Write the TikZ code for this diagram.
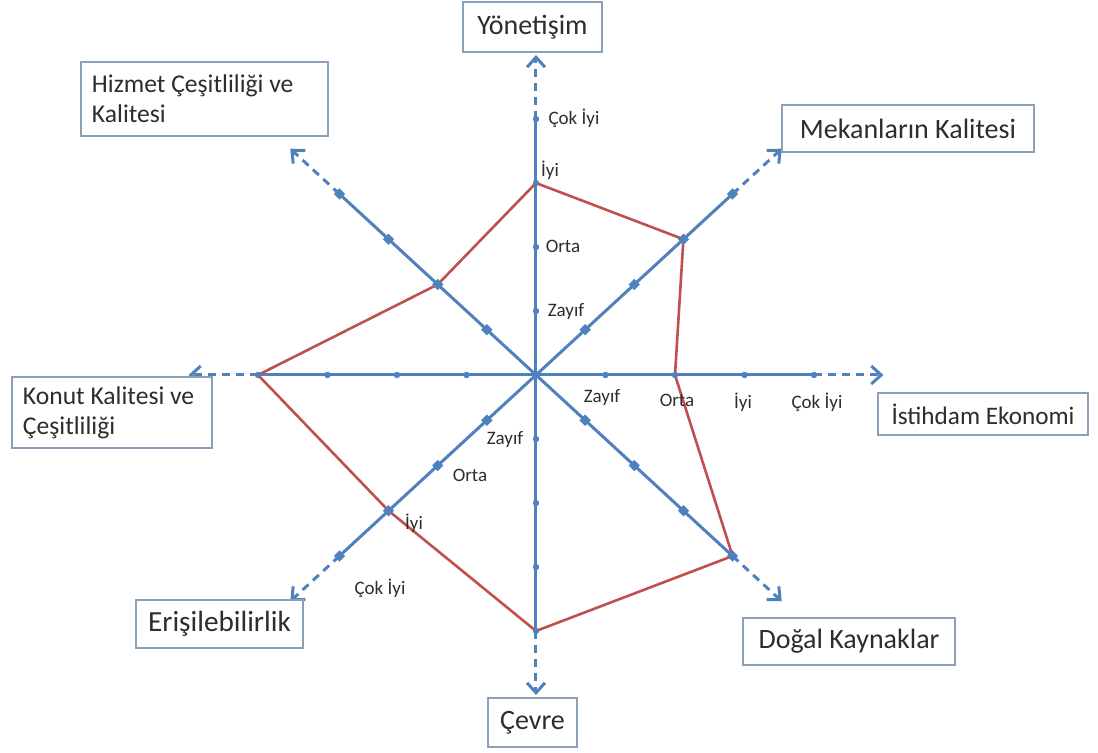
\documentclass[tikz,border=0pt]{standalone}
\usepackage{fontspec}
\setmainfont{Carlito}
\usetikzlibrary{positioning,arrows.meta}
\definecolor{axisblue}{RGB}{79,129,189}
\definecolor{webred}{RGB}{192,80,77}
\definecolor{boxline}{RGB}{140,160,185}
\definecolor{labtext}{RGB}{45,45,45}

\begin{document}
\begin{tikzpicture}[x=34.75pt, y=32pt,
  axis/.style={draw=axisblue, line width=1.5pt},
  axisend/.style={axis, dash pattern=on 4pt off 3pt,
    -{Straight Barb[length=5pt,width=9pt]}},
  tickdot/.style={circle, fill=axisblue, inner sep=0pt, minimum size=3.2pt},
  ticksq/.style={rectangle, fill=axisblue, inner sep=0pt, minimum size=4pt},
  web/.style={draw=webred, line width=1.3pt, line join=miter},
  lbox/.style={draw=boxline, line width=0.75pt, fill=white, text=labtext,
    font=\fontsize{14}{16}\selectfont, inner xsep=6pt},
  lbox2/.style={lbox, font=\fontsize{12.8}{15}\selectfont, align=flush left, inner xsep=5.5pt},
  lev/.style={text=labtext, font=\fontsize{9.5}{11}\selectfont, inner sep=0pt}]
  \useasboundingbox (-268pt,-189pt) rectangle (281pt,187.5pt);
  \coordinate (o) at (0,0);
  % Axes
  \foreach \nm/\ang in {ist/0, mek/45, yon/90, hiz/135, kon/180, eri/225, cev/270, dog/315} {
    \foreach \k in {1,...,5}
      \coordinate (\nm\k) at (\ang:\k);
    \draw[axis] (o) -- (\nm4);
    \draw[axisend] (\nm4) -- (\nm5);
  }
  % Scores
  \draw[web] (yon3) -- (mek3) -- (ist2) -- (dog4) -- (cev4) -- (eri3) -- (kon4) -- (hiz2) -- cycle;
  % Ticks
  \foreach \nm/\ang/\mk in {ist/0/tickdot, mek/45/ticksq, yon/90/tickdot, hiz/135/ticksq,
                            kon/180/tickdot, eri/225/ticksq, cev/270/tickdot, dog/315/ticksq}
    \foreach \k in {1,...,4}
      \node[\mk, rotate=\ang] (m\nm\k) at (\nm\k) {};
  % Level labels
  \foreach \x/\y/\t [count=\i] in {19/128.5/Çok İyi, 7/102.5/İyi, 13.5/64.5/Orta, 15/31.5/Zayıf,
                                   33/-11.5/Zayıf, 70.5/-12.5/Orta, 103.5/-13.5/İyi, 140.5/-13.5/Çok İyi,
                                   -15.5/-32.5/Zayıf, -33/-50/Orta, -61/-74/İyi, -78/-106.5/Çok İyi}
    \node[lev] (lev\i) at (\x pt,\y pt) {\t};
  % Dimension boxes
  \node[lbox, minimum width=69.5pt, minimum height=25pt] (yonbox) at (-1.75pt,174pt) {Yönetişim};
  \node[lbox, minimum width=126pt, minimum height=23.5pt] (mekbox) at (186pt,123.25pt) {Mekanların Kalitesi};
  \node[lbox, font=\fontsize{12.6}{15}\selectfont, minimum width=105pt, minimum height=21pt] (istbox) at (223.5pt,-19.5pt) {İstihdam Ekonomi};
  \node[lbox, minimum width=106pt, minimum height=23.5pt] (dogbox) at (156.5pt,-133.25pt) {Doğal Kaynaklar};
  \node[lbox, minimum width=44.5pt, minimum height=24.5pt] (cevbox) at (-1.75pt,-173.75pt) {Çevre};
  \node[lbox, font=\fontsize{14.6}{17}\selectfont, minimum width=82.5pt, minimum height=24pt] (eribox) at (-158.25pt,-124.5pt) {Erişilebilirlik};
  \node[lbox2, text width=112.5pt, minimum height=37pt] (hizbox) at (-165.75pt,138pt) {Hizmet Çeşitliliği ve\\Kalitesi};
  \node[lbox2, text width=89pt, minimum height=35.5pt] (konbox) at (-212pt,-18.75pt) {Konut Kalitesi ve\\Çeşitliliği};
\end{tikzpicture}
\end{document}
